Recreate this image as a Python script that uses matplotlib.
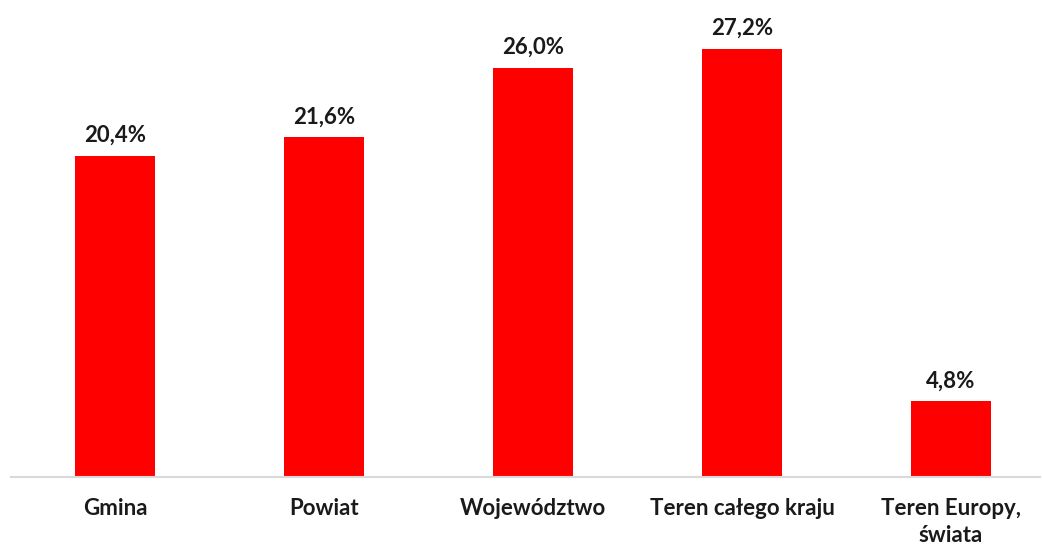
import matplotlib.pyplot as plt
import numpy as np

categories = ['Gmina', 'Powiat', 'Województwo', 'Teren całego kraju', 'Teren Europy,\nświata']
values = [20.4, 21.6, 26.0, 27.2, 4.8]
value_labels = ['20,4%', '21,6%', '26,0%', '27,2%', '4,8%']

plt.rcParams['font.family'] = ['Lato', 'DejaVu Sans']

fig = plt.figure(figsize=(10.42, 5.46), dpi=100)
ax = fig.add_axes([11/1042, 69/546, 1029/1042, 477/546])

x = np.arange(len(categories))
bars = ax.bar(x, values, width=0.383, color='#ff0000')

for b, lab in zip(bars, value_labels):
	ax.annotate(lab, (b.get_x() + b.get_width()/2, b.get_height()),
		xytext=(0, 7), textcoords='offset points', ha='center', va='bottom',
		fontsize=16, fontweight='bold', color='#1a1a1a')

ax.set_xlim(-0.498, 4.426)
ax.set_ylim(0, 30.3)

for s in ['top', 'right', 'left']:
	ax.spines[s].set_visible(False)
ax.spines['bottom'].set_color('#d9d9d9')
ax.spines['bottom'].set_linewidth(1.5)

ax.set_yticks([])
ax.set_xticks(x)
ax.set_xticklabels(categories, fontsize=16, fontweight='bold', color='#1a1a1a', linespacing=1.35)
ax.tick_params(axis='x', length=0, pad=15)

fig.savefig('out.png', dpi=100)
